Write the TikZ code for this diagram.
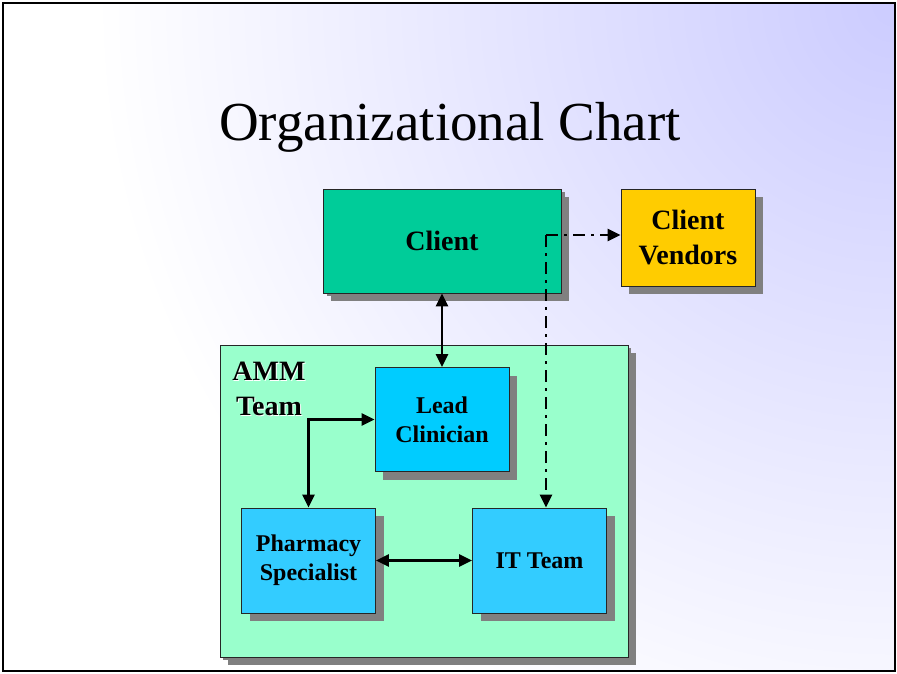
\documentclass[tikz,border=0pt]{standalone}
\usepackage{fontspec}
\setmainfont{Liberation Serif}
\usepackage{tikz}
\usetikzlibrary{arrows.meta}
\usetikzlibrary{shadows}

\definecolor{lavender}{HTML}{CCCCFF}
\definecolor{clientgreen}{HTML}{00CC99}
\definecolor{vendoryellow}{HTML}{FFCC00}
\definecolor{leadblue}{HTML}{00CCFF}
\definecolor{staffblue}{HTML}{33CCFF}
\definecolor{teammint}{HTML}{99FFCC}
\definecolor{shadowgray}{HTML}{808080}

\tikzset{
  box/.style={draw=black!85, line width=0.8pt, inner sep=0pt, align=center,
    minimum width=134pt, minimum height=105pt,
    font=\bfseries\fontsize{24}{29}\selectfont,
    general shadow={fill=shadowgray, shadow xshift=8pt, shadow yshift=-8pt}},
  bigtext/.style={font=\bfseries\fontsize{28}{35}\selectfont},
  link/.style={line width=2.5pt, <->},
  feed/.style={line width=2.8pt, ->, dash pattern=on 12pt off 6pt on 3pt off 6pt},
}

\begin{document}
\begin{tikzpicture}[x=1pt, y=-1pt, >={Triangle[length=13pt,width=12pt]}]
\useasboundingbox (0,0) rectangle (897,673);
\begin{scope}
 \clip (3,3) rectangle (895,671);
 \shade[inner color=lavender, outer color=white] (895,3) circle (800pt);
\end{scope}
\draw[line width=2pt] (3,3) rectangle (895,671);

\node[font=\fontsize{55}{60}\selectfont] (title) at (450,127) {Organizational Chart};

\node[box, fill=teammint, minimum width=408pt, minimum height=312pt,
  general shadow={fill=shadowgray, shadow xshift=3pt, shadow yshift=-3pt}] (amm) at (424,501) {};
\node[bigtext, white, align=center] at (270,390) {AMM\\Team};
\node[bigtext, align=center] (team) at (269,389) {AMM\\Team};

\node[box, bigtext, fill=clientgreen, minimum width=238pt, minimum height=104pt,
  general shadow={fill=shadowgray, shadow xshift=4pt, shadow yshift=-3pt}] (client) at (442,241) {Client};
\node[box, bigtext, fill=vendoryellow, minimum height=97pt] (vendors) at (688,237.5) {Client\\Vendors};
\node[box, fill=leadblue, minimum height=104pt] (lead) at (442,419.5) {Lead\\Clinician};
\node[box, fill=staffblue] (pharm) at (308.5,560.5) {Pharmacy\\Specialist};
\node[box, fill=staffblue] (it) at (539.5,560.5) {IT Team};

\draw[link] (client) -- (lead);
\draw[link] (pharm.north) |- (lead.west);
\draw[link] (pharm) -- (it);

\coordinate (tap) at (546,235);
\draw[feed] (tap) -- (tap -| vendors.west);
\draw[feed] (tap) -- (tap |- it.north);
\end{tikzpicture}
\end{document}
